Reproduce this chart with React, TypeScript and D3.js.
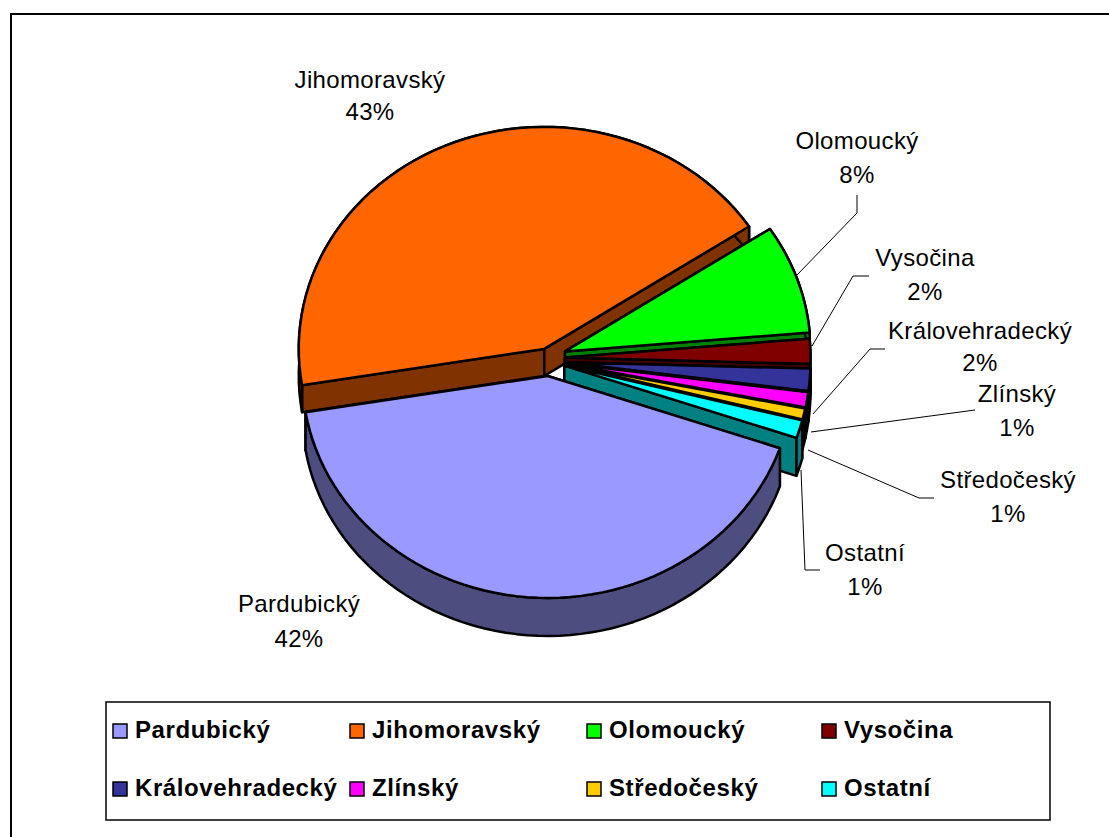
import * as d3 from 'd3';

const regions = ['Pardubický', 'Jihomoravský', 'Olomoucký', 'Vysočina', 'Královehradecký', 'Zlínský', 'Středočeský', 'Ostatní'];
const shares = [41.9, 43.1, 7.9, 1.8, 1.6, 1.1, 0.8, 1.3];
const shareLabels = ['42%', '43%', '8%', '2%', '2%', '1%', '1%', '1%'];
const topColors = ['#9999FF', '#FF6600', '#00FF00', '#800000', '#333399', '#FF00FF', '#FFCC00', '#00FFFF'];
const wallColors = ['#4D4D80', '#803300', '#008000', '#400000', '#1A1A4D', '#800080', '#806600', '#008080'];

// layout, per slice
const explosion = [15, 13, 17, 16, 16, 16, 16, 16];
const lift = [0, 0, 4, 3, 0, 0, 0, 0];
const depths = [38, 27, 30, 30, 30, 30, 30, 38];
const paintOrder = [1, 2, 3, 4, 5, 6, 7, 0];

// text centre, baselines and leader polyline for each label
const labelX = [299, 370, 857, 925, 980, 1017, 1008, 865];
const labelY = [[612, 647], [88, 120], [149, 183], [266, 300], [339, 371], [402, 436], [488, 522], [561, 595]];
const leaders: [number, number][][] = [
  [],
  [],
  [[797, 275], [857, 213], [857, 195]],
  [[812, 346], [853, 276], [869, 276]],
  [[813, 414], [870, 349], [885, 349]],
  [[811, 432], [975, 410]],
  [[808, 450], [919, 498], [934, 498]],
  [[801, 470], [805, 570], [820, 570]],
];

const legendXs = [113, 350, 587, 822];
const legendYs = [724, 782];

const cx = 549;
const cy = 361;
const rx = 245.5;
const ry = 222;
const rad = Math.PI / 180;

const pie = d3.pie<number>().sort(null).startAngle(109 * rad).endAngle(469 * rad);
const line = d3.line<[number, number]>();

export default function App() {
  const arcs = pie(shares);

  const slices = paintOrder.map((i) => {
    const a = arcs[i];
    const mid = (a.startAngle + a.endAngle) / 2;
    const ox = cx + explosion[i] * Math.sin(mid);
    const oy = cy - explosion[i] * Math.cos(mid) - lift[i];
    const d = depths[i];
    const steps = d3.range(0, 61).map((k) => a.startAngle + ((a.endAngle - a.startAngle) * k) / 60);
    const rim = steps.map((t): [number, number] => [ox + rx * Math.sin(t), oy - ry * Math.cos(t)]);
    const drop = (p: [number, number]): [number, number] => [p[0], p[1] + d];
    const apex: [number, number] = [ox, oy];
    const first = rim[0];
    const last = rim[rim.length - 1];
    return {
      i,
      top: line([apex, ...rim])! + 'Z',
      outer: line([...rim, ...rim.map(drop).reverse()])! + 'Z',
      wallA: line([apex, first, drop(first), drop(apex)])! + 'Z',
      wallB: line([apex, last, drop(last), drop(apex)])! + 'Z',
    };
  });

  return (
    <svg width={1109} height={837} style={{ position: 'absolute', left: 0, top: 0, background: '#fff' }}>
      {/* chart frame */}
      <path d="M11 837V14H1109" fill="none" stroke="#000" strokeWidth={2} />

      {slices.map((s) => (
        <g key={regions[s.i]} stroke="#000" strokeWidth={2.5} strokeLinejoin="round">
          <path d={s.wallA} fill={wallColors[s.i]} />
          <path d={s.wallB} fill={wallColors[s.i]} />
          <path d={s.outer} fill={wallColors[s.i]} />
          <path d={s.top} fill={topColors[s.i]} />
        </g>
      ))}

      {leaders.map((pts, i) =>
        pts.length ? <path key={i} d={line(pts)!} fill="none" stroke="#000" strokeWidth={1} /> : null
      )}

      {regions.map((name, i) => (
        <g key={name} fontFamily='"Liberation Sans", Arial, sans-serif' fontSize={24} letterSpacing={0.35} textAnchor="middle" fill="#000">
          <text x={labelX[i]} y={labelY[i][0]}>{name}</text>
          <text x={labelX[i]} y={labelY[i][1]}>{shareLabels[i]}</text>
        </g>
      ))}

      {/* legend */}
      <rect x={106} y={702} width={944} height={118} fill="#fff" stroke="#000" strokeWidth={1.5} />
      {regions.map((name, i) => {
        const x = legendXs[i % 4];
        const y = legendYs[Math.floor(i / 4)];
        return (
          <g key={name}>
            <rect x={x} y={y} width={14} height={14} fill={topColors[i]} stroke="#000" strokeWidth={1.5} />
            <text x={x + 22} y={y + 14} fontFamily='"Liberation Sans", Arial, sans-serif' fontSize={24} fontWeight="bold" letterSpacing={0.6} fill="#000">
              {name}
            </text>
          </g>
        );
      })}
    </svg>
  );
}
